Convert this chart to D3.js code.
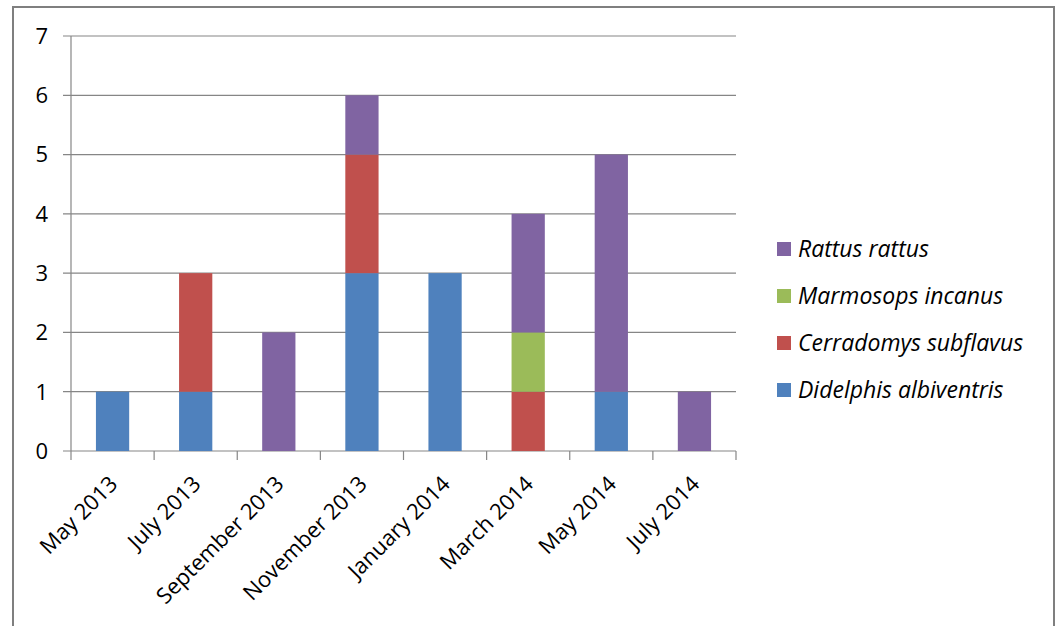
<!DOCTYPE html>
<html>
<head>
<meta charset="utf-8">
<script src="https://cdn.jsdelivr.net/npm/d3@7"></script>
<style>
  body { margin: 0; background: #fff; }
  text { font-family: "Open Sans", "Noto Sans", sans-serif; fill: #000; }
</style>
</head>
<body>
<svg id="chart" width="1058" height="626"></svg>
<script>
var months = ["May 2013", "July 2013", "September 2013", "November 2013", "January 2014", "March 2014", "May 2014", "July 2014"];
var species = ["Didelphis albiventris", "Cerradomys subflavus", "Marmosops incanus", "Rattus rattus"];
var didelphis = [1, 1, 0, 3, 3, 0, 1, 0];
var cerradomys = [0, 2, 0, 2, 0, 1, 0, 0];
var marmosops = [0, 0, 0, 0, 0, 1, 0, 0];
var rattus = [0, 0, 2, 1, 0, 2, 4, 1];
var yTicks = [0, 1, 2, 3, 4, 5, 6, 7];
var colors = ["#4F81BD", "#C0504D", "#9BBB59", "#8064A2"];

var seriesVals = [didelphis, cerradomys, marmosops, rattus];
var rows = months.map(function(m, i){
  var r = {month: m};
  species.forEach(function(s, j){ r[s] = seriesVals[j][i]; });
  return r;
});

var svg = d3.select("#chart");

// outer frame
svg.append("rect")
  .attr("x", 13).attr("y", 7)
  .attr("width", 1041).attr("height", 640)
  .attr("fill", "none")
  .attr("stroke", "#7f7f7f")
  .attr("stroke-width", 2);

var plotL = 71, plotR = 736, plotT = 36, plotB = 451;

var x = d3.scaleBand()
  .domain(months)
  .range([plotL, plotR])
  .paddingInner(0.6)
  .paddingOuter(0.3);

var y = d3.scaleLinear()
  .domain([0, 7])
  .range([plotB, plotT]);

// gridlines
svg.append("g")
  .selectAll("line")
  .data(yTicks)
  .enter()
  .append("line")
  .attr("x1", plotL - 8)
  .attr("x2", plotR)
  .attr("y1", function(d){ return y(d); })
  .attr("y2", function(d){ return y(d); })
  .attr("stroke", "#868686")
  .attr("stroke-width", 1.2);

// y axis line
svg.append("line")
  .attr("x1", plotL).attr("x2", plotL)
  .attr("y1", plotT).attr("y2", plotB)
  .attr("stroke", "#868686")
  .attr("stroke-width", 1.2);

// y labels
svg.append("g")
  .selectAll("text")
  .data(yTicks)
  .enter()
  .append("text")
  .attr("x", 48)
  .attr("y", function(d){ return y(d); })
  .attr("dy", "0.36em")
  .attr("text-anchor", "end")
  .style("font-size", "22px")
  .text(function(d){ return d; });

// stacked bars
var stack = d3.stack().keys(species);
var layers = stack(rows);

svg.append("g")
  .selectAll("g")
  .data(layers)
  .enter()
  .append("g")
  .attr("fill", function(d, i){ return colors[i]; })
  .selectAll("rect")
  .data(function(d){ return d; })
  .enter()
  .append("rect")
  .attr("x", function(d){ return x(d.data.month); })
  .attr("width", x.bandwidth())
  .attr("y", function(d){ return y(d[1]); })
  .attr("height", function(d){ return y(d[0]) - y(d[1]); });

// x axis ticks (category boundaries)
var bounds = d3.range(months.length + 1).map(function(i){ return plotL + i * x.step(); }).map(function(v, i){ return x.range()[0] + i * (plotR - plotL) / months.length; });
svg.append("g")
  .selectAll("line")
  .data(bounds)
  .enter()
  .append("line")
  .attr("x1", function(d){ return d; })
  .attr("x2", function(d){ return d; })
  .attr("y1", plotB)
  .attr("y2", plotB + 9)
  .attr("stroke", "#868686")
  .attr("stroke-width", 1.2);

// x labels rotated
svg.append("g")
  .selectAll("text")
  .data(months)
  .enter()
  .append("text")
  .attr("text-anchor", "end")
  .style("font-size", "22px")
  .attr("transform", function(d){
    var cx = x(d) + x.bandwidth() / 2 + 1;
    return "translate(" + cx + "," + (plotB + 29) + ") rotate(-45)";
  })
  .attr("dy", "0.35em")
  .text(function(d){ return d; });

// legend (reverse order)
var legendItems = species.slice().reverse();
var legend = svg.append("g")
  .selectAll("g")
  .data(legendItems)
  .enter()
  .append("g")
  .attr("transform", function(d, i){ return "translate(777," + (249 + i * 47) + ")"; });

legend.append("rect")
  .attr("x", 0).attr("y", -7)
  .attr("width", 14).attr("height", 14)
  .attr("fill", function(d){ return colors[species.indexOf(d)]; });

legend.append("text")
  .attr("x", 21)
  .attr("y", 0)
  .attr("dy", "0.36em")
  .style("font-size", "23px")
  .style("font-style", "italic")
  .text(function(d){ return d; });
</script>
</body>
</html>
